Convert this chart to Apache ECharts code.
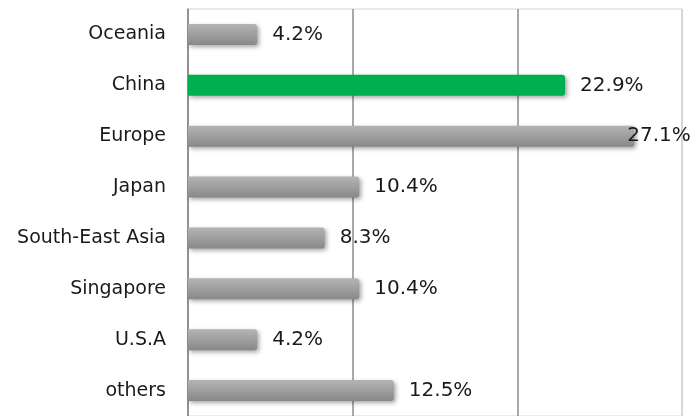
<!DOCTYPE html>
<html>
<head>
<meta charset="utf-8">
<script src="https://cdn.jsdelivr.net/npm/echarts@6/dist/echarts.min.js"></script>
<style>
  html, body { margin: 0; padding: 0; background: #fff; }
  #chart { width: 697px; height: 416px; }
</style>
</head>
<body>
<div id="chart"></div>
<script>
const regions = ['Oceania', 'China', 'Europe', 'Japan', 'South-East Asia', 'Singapore', 'U.S.A', 'others']
const shares = [4.2, 22.9, 27.1, 10.4, 8.3, 10.4, 4.2, 12.5]
const highlight = 'China'
const squeezed = 'Europe'
const axisMax = 30
const axisStep = 10

const grayBar = new echarts.graphic.LinearGradient(0, 0, 0, 1, [
  { offset: 0, color: '#b4b4b4' },
  { offset: 1, color: '#888888' }
])

var myChart = echarts.init(document.getElementById('chart'))

var option = {
  backgroundColor: '#fff',
  textStyle: { fontFamily: 'DejaVu Sans' },
  grid: {
    left: 188,
    right: 15,
    top: 9,
    height: 410,
    show: true,
    borderColor: '#d4d4d4',
    borderWidth: 1
  },
  xAxis: {
    type: 'value',
    min: 0,
    max: axisMax,
    interval: axisStep,
    axisLabel: { show: false },
    axisLine: { show: false },
    axisTick: { show: false },
    splitLine: {
      lineStyle: {
        color: ['#8c8c8c', '#8c8c8c', '#8c8c8c', '#cfcfcf'],
        width: 1.5
      }
    }
  },
  yAxis: {
    type: 'category',
    inverse: true,
    data: regions,
    axisLine: { lineStyle: { color: '#8c8c8c', width: 1.5 } },
    axisTick: { length: 8, lineStyle: { color: '#8c8c8c', width: 1.5 } },
    axisLabel: {
      color: '#1a1a1a',
      fontSize: 19,
      margin: 22,
      fontFamily: 'DejaVu Sans'
    }
  },
  series: [
    {
      type: 'bar',
      barWidth: 21,
      data: shares.map((v, i) => {
        const item = { value: v }
        if (regions[i] === highlight) {
          item.itemStyle = { color: '#00b050' }
        }
        if (regions[i] === squeezed) {
          item.label = { offset: [-22, 0] }
        }
        return item
      }),
      itemStyle: {
        color: grayBar,
        borderRadius: [0, 3, 3, 0],
        shadowColor: 'rgba(0,0,0,0.35)',
        shadowBlur: 4,
        shadowOffsetX: 2,
        shadowOffsetY: 2
      },
      label: {
        show: true,
        position: 'right',
        distance: 15,
        color: '#1a1a1a',
        fontSize: 20,
        fontFamily: 'DejaVu Sans',
        formatter: '{c}%'
      }
    }
  ]
}

option && myChart.setOption(option)
</script>
</body>
</html>
